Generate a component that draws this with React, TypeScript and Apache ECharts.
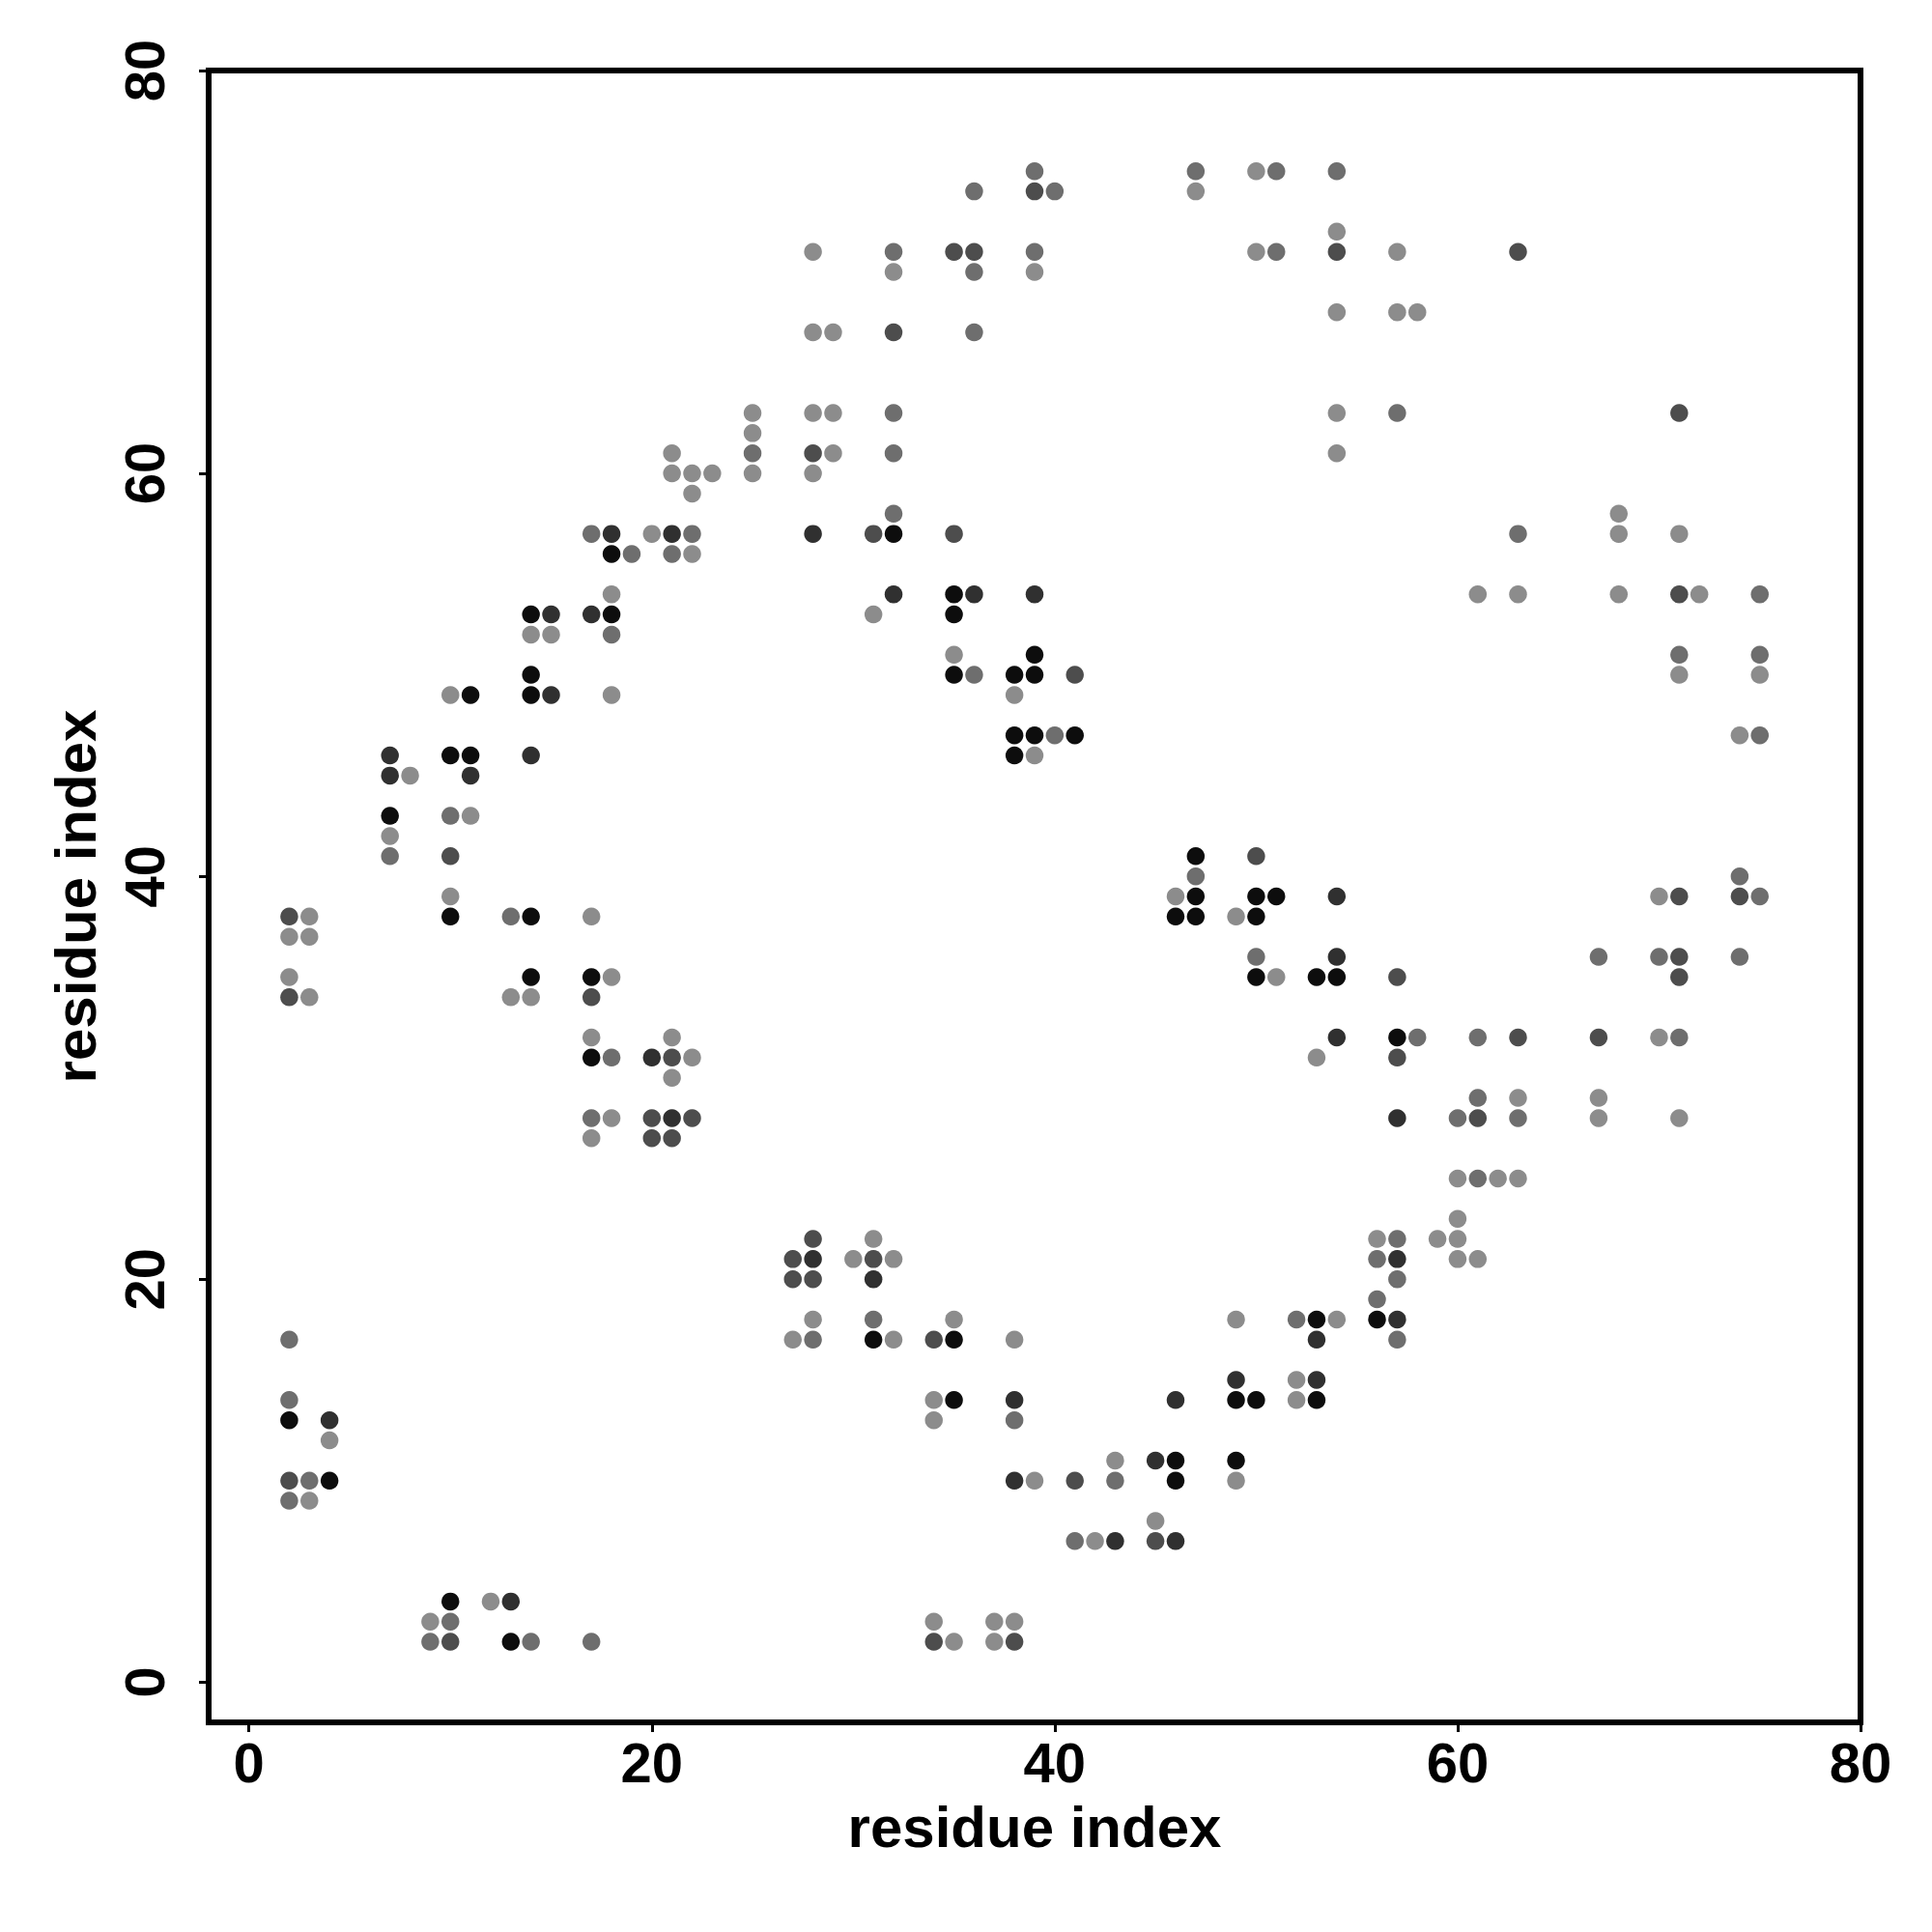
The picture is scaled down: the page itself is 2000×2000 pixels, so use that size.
import React, { useEffect, useRef } from "react";
import * as echarts from "echarts";

// Axis ticks and titles
const tickValues = [0, 20, 40, 60, 80];
const xTitle = "residue index";
const yTitle = "residue index";

// Contacts [residue i, residue j], grouped by shade (darkest -> lightest)
const shadeColors = ["#0d0d0d", "#303030", "#4d4d4d", "#6e6e6e", "#8c8c8c"];

const contactsA = [
  [32, 57], [18, 56], [35, 54], [14, 53], [18, 53], [35, 53], [39, 51], [14, 50], [35, 50], [38, 50],
  [39, 50], [11, 49], [14, 49], [38, 47], [39, 47], [41, 47], [10, 46], [11, 46], [38, 46], [7, 43],
  [47, 41], [47, 39], [50, 39], [51, 39], [10, 38], [14, 38], [46, 38], [47, 38], [50, 38], [14, 35],
  [17, 35], [50, 35], [53, 35], [54, 35], [57, 32], [17, 31], [53, 18], [56, 18], [31, 17], [35, 17],
  [35, 14], [49, 14], [50, 14], [53, 14], [2, 13], [46, 11], [49, 11], [4, 10], [46, 10], [10, 4],
  [13, 2],
];

const contactsB = [
  [18, 57], [21, 57], [28, 57], [32, 54], [36, 54], [39, 54], [15, 53], [17, 53], [15, 49], [7, 46],
  [14, 46], [7, 45], [11, 45], [54, 39], [54, 36], [54, 32], [20, 31], [21, 28], [57, 28], [28, 21],
  [57, 21], [31, 20], [57, 18], [53, 17], [49, 15], [53, 15], [38, 14], [46, 14], [4, 13], [45, 11],
  [38, 10], [43, 7], [46, 7], [13, 4],
];

const contactsC = [
  [39, 74], [35, 71], [36, 71], [54, 71], [63, 71], [32, 67], [71, 63], [28, 61], [31, 57], [35, 57],
  [71, 54], [41, 50], [10, 41], [50, 41], [71, 39], [74, 39], [2, 38], [71, 36], [57, 35], [71, 35],
  [2, 34], [17, 34], [63, 32], [67, 32], [21, 31], [57, 31], [20, 28], [22, 28], [61, 28], [20, 27],
  [21, 27], [28, 22], [27, 21], [31, 21], [27, 20], [28, 20], [34, 17], [2, 10], [41, 10], [45, 7],
  [10, 2], [34, 2], [38, 2],
];

const contactsD = [
  [39, 75], [47, 75], [51, 75], [54, 75], [36, 74], [40, 74], [32, 71], [39, 71], [51, 71], [36, 70],
  [36, 67], [32, 63], [57, 63], [25, 61], [32, 61], [32, 58], [17, 57], [22, 57], [63, 57], [19, 56],
  [21, 56], [75, 54], [18, 52], [71, 51], [75, 51], [36, 50], [40, 47], [75, 47], [10, 43], [7, 41],
  [47, 40], [74, 40], [75, 39], [13, 38], [50, 36], [67, 36], [70, 36], [74, 36], [58, 32], [61, 32],
  [71, 32], [18, 31], [61, 29], [17, 28], [60, 28], [63, 28], [61, 25], [57, 22], [56, 21], [57, 20],
  [56, 19], [31, 18], [52, 18], [2, 17], [28, 17], [57, 17], [2, 14], [38, 13], [3, 10], [43, 10],
  [2, 9], [41, 7], [10, 3], [9, 2], [14, 2], [17, 2],
];

const contactsE = [
  [50, 75], [47, 74], [54, 72], [28, 71], [50, 71], [57, 71], [32, 70], [39, 70], [54, 68], [57, 68],
  [58, 68], [28, 67], [29, 67], [25, 63], [28, 63], [29, 63], [54, 63], [25, 62], [21, 61], [29, 61],
  [54, 61], [21, 60], [22, 60], [23, 60], [25, 60], [28, 60], [22, 59], [68, 58], [20, 57], [68, 57],
  [71, 57], [22, 56], [18, 54], [61, 54], [63, 54], [68, 54], [72, 54], [31, 53], [14, 52], [15, 52],
  [35, 51], [71, 50], [75, 50], [10, 49], [18, 49], [38, 49], [74, 47], [39, 46], [8, 45], [11, 43],
  [7, 42], [10, 39], [46, 39], [70, 39], [3, 38], [17, 38], [49, 38], [2, 37], [3, 37], [2, 35],
  [18, 35], [51, 35], [3, 34], [13, 34], [14, 34], [17, 32], [21, 32], [70, 32], [22, 31], [53, 31],
  [21, 30], [63, 29], [67, 29], [18, 28], [67, 28], [71, 28], [17, 27], [60, 25], [62, 25], [63, 25],
  [60, 23], [31, 22], [56, 22], [59, 22], [60, 22], [30, 21], [32, 21], [60, 21], [61, 21], [28, 18],
  [35, 18], [49, 18], [54, 18], [27, 17], [32, 17], [38, 17], [52, 15], [34, 14], [52, 14], [34, 13],
  [4, 12], [43, 11], [39, 10], [49, 10], [3, 9], [45, 8], [42, 7], [12, 4], [9, 3], [34, 3],
  [37, 3], [38, 3], [35, 2], [37, 2],
];

const shadeGroups = [contactsA, contactsB, contactsC, contactsD, contactsE];

const FONT = "'Liberation Sans', Arial, Helvetica, sans-serif";

export default function App() {
  const ref = useRef<HTMLDivElement>(null);

  useEffect(() => {
    if (!ref.current) return;
    const chart = echarts.init(ref.current, undefined, { renderer: "svg" });

    const labelStyle = {
      color: "#000",
      fontSize: 58,
      fontWeight: "bold" as const,
      fontFamily: FONT,
    };

    const option: any = {
      animation: false,
      backgroundColor: "#fff",
      grid: {
        show: true,
        left: 216,
        top: 73,
        width: 1710,
        height: 1710,
        borderColor: "#000",
        borderWidth: 6,
        backgroundColor: "transparent",
        containLabel: false,
      },
      xAxis: {
        type: "value",
        min: -2,
        max: 80,
        splitLine: { show: false },
        axisLine: { show: false, onZero: false },
        axisTick: {
          show: true,
          length: 10,
          customValues: tickValues,
          lineStyle: { color: "#000", width: 3 },
        },
        axisLabel: { ...labelStyle, customValues: tickValues, margin: 12 },
        name: xTitle,
        nameLocation: "middle",
        nameGap: 78,
        nameTextStyle: { ...labelStyle, fontSize: 60 },
      },
      yAxis: {
        type: "value",
        min: -2,
        max: 80,
        splitLine: { show: false },
        axisLine: { show: false, onZero: false },
        axisTick: {
          show: true,
          length: 10,
          customValues: tickValues,
          lineStyle: { color: "#000", width: 3 },
        },
        axisLabel: { ...labelStyle, customValues: tickValues, rotate: 90, margin: 38 },
        name: yTitle,
        nameLocation: "middle",
        nameGap: 108,
        nameTextStyle: { ...labelStyle, fontSize: 60 },
      },
      series: shadeGroups.map((data, i) => ({
        type: "scatter",
        data,
        symbol: "circle",
        symbolSize: 18.5,
        silent: true,
        itemStyle: { color: shadeColors[i], opacity: 1 },
        emphasis: { disabled: true },
      })),
    };

    chart.setOption(option);
    return () => chart.dispose();
  }, []);

  return (
    <div
      ref={ref}
      style={{ position: "absolute", left: 0, top: 0, width: 2000, height: 2000 }}
    />
  );
}
